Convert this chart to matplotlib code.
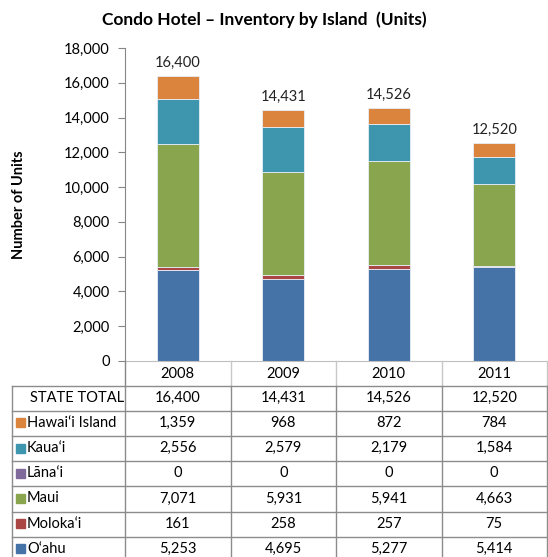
import matplotlib.pyplot as plt
import numpy as np

# data
years = ["2008", "2009", "2010", "2011"]
islands = ["Hawai\u2018i Island", "Kaua\u2018i", "L\u0101na\u2018i", "Maui", "Moloka\u2018i", "O\u2018ahu"]
hawaii = [1359, 968, 872, 784]
kauai = [2556, 2579, 2179, 1584]
lanai = [0, 0, 0, 0]
maui = [7071, 5931, 5941, 4663]
molokai = [161, 258, 257, 75]
oahu = [5253, 4695, 5277, 5414]
totals = [16400, 14431, 14526, 12520]

colors = ["#DB843D", "#3D96AE", "#80699B", "#89A54E", "#AA4643", "#4572A7"]
series = [hawaii, kauai, lanai, maui, molokai, oahu]

plt.rcParams['font.family'] = ['Lato', 'DejaVu Sans']
W, H = 548, 557
fig = plt.figure(figsize=(W / 100, H / 100), dpi=100)

# plot area in pixel terms
left, right, bottom, top = 125, 547, 361, 48
ax = fig.add_axes([left / W, (H - bottom) / H, (right - left) / W, (bottom - top) / H])

x = np.arange(len(years))
base = np.zeros(len(years))
# stack from bottom (O'ahu) to top (Hawai'i)
for vals, col in zip(series[::-1], colors[::-1]):
    ax.bar(x, vals, 0.4, bottom=base, color=col, edgecolor="#e8eef7", linewidth=0.6)
    base += np.array(vals)

for xi, t in zip(x, totals):
    ax.text(xi, t + 350, f"{t:,}", ha="center", va="bottom", fontsize=10.5, color="#222222")

ax.set_xlim(-0.5, len(years) - 0.5)
ax.set_ylim(0, 18000)
ax.set_yticks(np.arange(0, 18001, 2000))
ax.set_yticklabels([f"{v:,}" for v in range(0, 18001, 2000)], fontsize=10.5)
ax.set_xticks([])
ax.tick_params(axis="y", length=5, color="#868686", pad=6)
for s in ["top", "right"]:
    ax.spines[s].set_visible(False)
ax.spines["left"].set_color("#868686")
ax.spines["bottom"].set_color("#bfbfbf")
ax.set_ylabel("Number of Units", fontsize=10.5, fontweight="bold")
ax.yaxis.set_label_coords(-(left - 26) / (right - left), 0.5)

fig.text(0.482, 1 - 20 / H, "Condo Hotel \u2013 Inventory by Island  (Units)",
         ha="center", va="center", fontsize=12.5, fontweight="bold")

# data table below the chart, drawn in pixel coordinates
tab = fig.add_axes([0, 0, 1, 1])
tab.set_xlim(0, W)
tab.set_ylim(H, 0)
tab.axis("off")
tab.patch.set_visible(False)

col_w = (right - left) / len(years)
col_edges = [left + i * col_w for i in range(len(years) + 1)]
head_bottom = 385.5
row_h = 25.2
tab_left = 12
n_rows = len(islands) + 1

# header row with years
for i in range(1, len(col_edges)):
    tab.plot([col_edges[i], col_edges[i]], [bottom, head_bottom], color="#c8c8c8", lw=1)
tab.plot([left, left], [bottom, head_bottom], color="#868686", lw=1)
for i, yr in enumerate(years):
    tab.text(col_edges[i] + col_w / 2, (bottom + head_bottom) / 2 + 1, yr,
             ha="center", va="center", fontsize=10.5)

# grid of body rows
for k in range(n_rows + 1):
    yk = head_bottom + k * row_h
    tab.plot([tab_left, right], [yk, yk], color="#8c8c8c", lw=1)
for xe in [tab_left] + col_edges:
    tab.plot([xe, xe], [head_bottom, head_bottom + n_rows * row_h], color="#8c8c8c", lw=1)

rows = [("STATE TOTAL", None, totals)] + list(zip(islands, colors, series))
for r, (label, col, vals) in enumerate(rows):
    yc = head_bottom + r * row_h + row_h / 2 - 0.5
    if col is None:
        tab.text(30, yc, label, ha="left", va="center", fontsize=10.5)
    else:
        tab.add_patch(plt.Rectangle((16, yc - 4.5), 9, 9, color=col))
        tab.text(27, yc, label, ha="left", va="center", fontsize=10.5)
    for i, v in enumerate(vals):
        tab.text(col_edges[i] + col_w / 2, yc, f"{v:,}", ha="center", va="center", fontsize=10.5)

fig.savefig("out.png", dpi=100)
